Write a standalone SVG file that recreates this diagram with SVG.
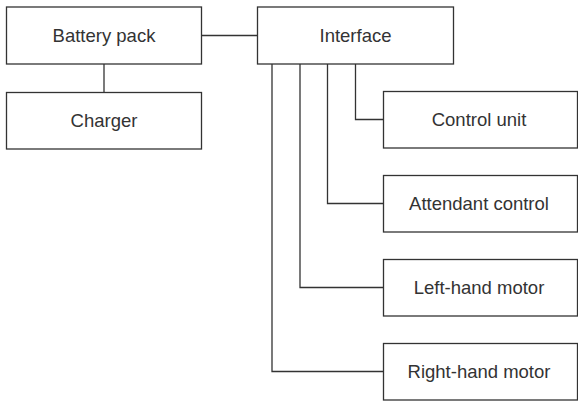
<svg xmlns="http://www.w3.org/2000/svg" width="578" height="403" viewBox="0 0 578 403">
<style>
.box{fill:#fff;stroke:#333;stroke-width:1.3}
.lbl{font-family:"Liberation Sans",Arial,sans-serif;font-size:18.5px;fill:#333;text-anchor:middle}
.con{fill:none;stroke:#333;stroke-width:1.3}
</style>
<rect width="578" height="403" fill="#fff"/>
<g id="connectors">
<path class="con" d="M104 64V92.5"/>
<path class="con" d="M201.5 35.5H257.5"/>
<path class="con" d="M355.5 64V119.5H383.5"/>
<path class="con" d="M327.5 64V203.5H383.5"/>
<path class="con" d="M300 64V287.5H383.5"/>
<path class="con" d="M272 64V371.5H383.5"/>
</g>
<g id="battery"><rect class="box" x="6.5" y="7" width="195" height="57"/><text class="lbl" x="104" y="42">Battery pack</text></g>
<g id="charger"><rect class="box" x="6.5" y="92.5" width="195" height="56.5"/><text class="lbl" x="104" y="127">Charger</text></g>
<g id="interface"><rect class="box" x="257.5" y="7" width="196" height="57"/><text class="lbl" x="355.5" y="42">Interface</text></g>
<g id="control"><rect class="box" x="383.5" y="91.5" width="194" height="56.5"/><text class="lbl" x="479" y="126">Control unit</text></g>
<g id="attendant"><rect class="box" x="383.5" y="175.5" width="194" height="56.5"/><text class="lbl" x="479" y="210">Attendant control</text></g>
<g id="left"><rect class="box" x="383.5" y="259.5" width="194" height="56.5"/><text class="lbl" x="479" y="294">Left-hand motor</text></g>
<g id="right"><rect class="box" x="383.5" y="343.5" width="194" height="56.5"/><text class="lbl" x="479" y="378">Right-hand motor</text></g>
</svg>
